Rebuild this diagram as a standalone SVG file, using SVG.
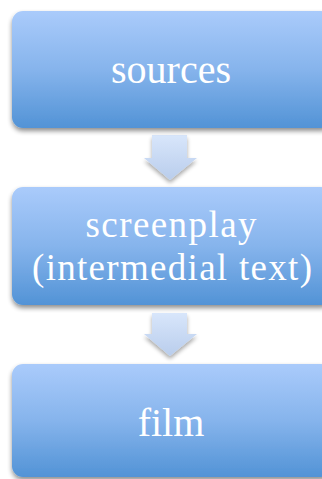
<svg xmlns="http://www.w3.org/2000/svg" width="322" height="479" viewBox="0 0 322 479">
  <style>
    .box { fill: url(#boxFill); filter: url(#shadow); }
    .arrow { fill: url(#arrowFill); filter: url(#arrowShadow); }
    .label { font-family: "Liberation Serif", "DejaVu Serif", serif; font-size: 40px; fill: #ffffff; text-anchor: middle; }
    .small { font-size: 37px; }
  </style>
  <defs>
    <linearGradient id="boxFill" x1="0" y1="0" x2="0" y2="1">
      <stop offset="0" stop-color="#aacbfb"/>
      <stop offset="0.5" stop-color="#86b4ec"/>
      <stop offset="1" stop-color="#5293d6"/>
    </linearGradient>
    <linearGradient id="arrowFill" x1="0" y1="0" x2="0" y2="1">
      <stop offset="0" stop-color="#d8e6fb"/>
      <stop offset="1" stop-color="#b9cdec"/>
    </linearGradient>
    <filter id="shadow" x="-10%" y="-10%" width="120%" height="130%">
      <feGaussianBlur in="SourceAlpha" stdDeviation="2.5"/>
      <feOffset dx="0" dy="3" result="blur"/>
      <feComponentTransfer><feFuncA type="linear" slope="0.45"/></feComponentTransfer>
      <feMerge><feMergeNode/><feMergeNode in="SourceGraphic"/></feMerge>
    </filter>
    <filter id="arrowShadow" x="-30%" y="-20%" width="160%" height="150%">
      <feGaussianBlur in="SourceAlpha" stdDeviation="2"/>
      <feOffset dx="0" dy="2.5" result="blur"/>
      <feComponentTransfer><feFuncA type="linear" slope="0.35"/></feComponentTransfer>
      <feMerge><feMergeNode/><feMergeNode in="SourceGraphic"/></feMerge>
    </filter>
  </defs>

  <g id="connectors">
    <path class="arrow" d="M152,135 H187 V158 H197 L170,180 L144,158 H152 Z"/>
    <path class="arrow" d="M152,313 H187 V334 H197 L170,356 L144,334 H152 Z"/>
  </g>

  <g id="sources">
    <rect class="box" x="12" y="11" width="320" height="117" rx="11"/>
    <text class="label" x="171" y="83">sources</text>
  </g>

  <g id="screenplay">
    <rect class="box" x="12" y="187" width="320" height="118" rx="11"/>
    <text class="label small" x="171" y="237" textLength="171" lengthAdjust="spacing">screenplay</text>
    <text class="label small" x="172" y="280" textLength="280" lengthAdjust="spacing">(intermedial text)</text>
  </g>

  <g id="film">
    <rect class="box" x="12" y="364" width="320" height="113" rx="11"/>
    <text class="label" x="171" y="436">film</text>
  </g>
</svg>
